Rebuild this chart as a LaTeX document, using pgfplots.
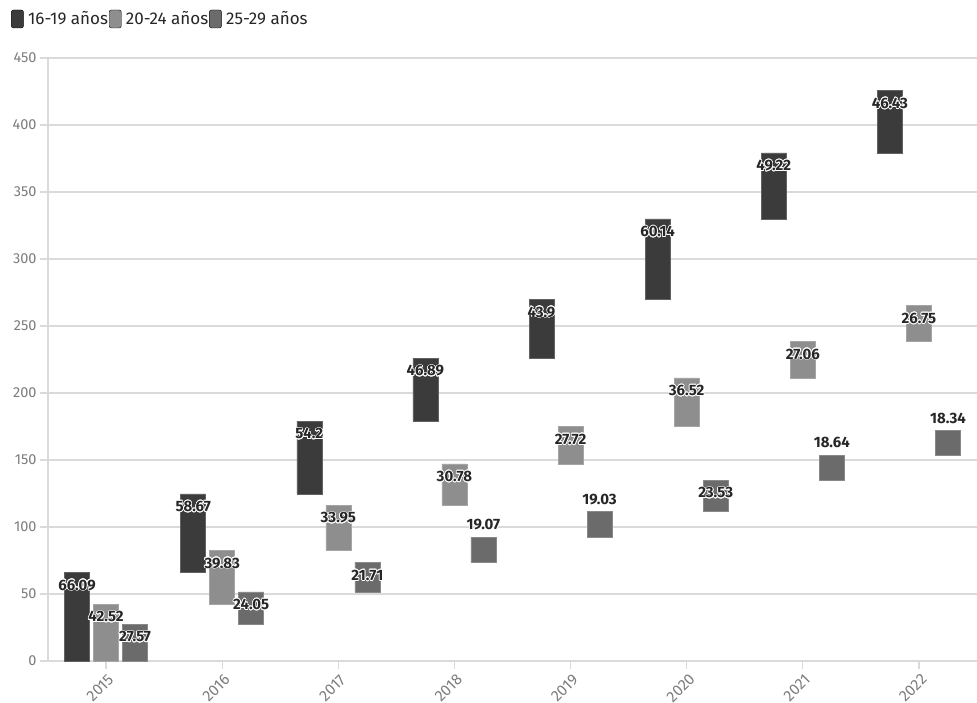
\documentclass[border=0pt]{standalone}
\usepackage{pgfplots}
\pgfplotsset{compat=1.18}
\usepackage{pgfplotstable}
\usepackage{fontspec}
\setmainfont{Fira Sans}
\usepackage{contour}
\contourlength{0.7pt}
\contournumber{16}

\definecolor{cA}{HTML}{3B3B3B}
\definecolor{cB}{HTML}{8E8E8E}
\definecolor{cC}{HTML}{6B6B6B}
\definecolor{gridc}{HTML}{DADADA}
\definecolor{tickc}{HTML}{7C7C7C}
\definecolor{labc}{HTML}{262626}

% base = where the bar starts, val = size of the step, top = base+val,
% off = label shift (pt)
\pgfplotstableread{
x base val top off
0 0 66.09 66.09 -13
1 66.09 58.67 124.76 -13
2 124.76 54.2 178.96 -13
3 178.96 46.89 225.85 -13
4 225.85 43.9 269.75 -13
5 269.75 60.14 329.89 -13
6 329.89 49.22 379.11 -13
7 379.11 46.43 425.54 -13
}\tA
\pgfplotstableread{
x base val top off
0 0 42.52 42.52 -13
1 42.52 39.83 82.35 -13
2 82.35 33.95 116.30 -13
3 116.30 30.78 147.08 -13
4 147.08 27.72 174.80 -13
5 174.80 36.52 211.32 -13
6 211.32 27.06 238.38 -13
7 238.38 26.75 265.13 -13
}\tB
\pgfplotstableread{
x base val top off
0 0 27.57 27.57 -13
1 27.57 24.05 51.62 -13
2 51.62 21.71 73.33 -13
3 73.33 19.07 92.40 12
4 92.40 19.03 111.43 12
5 111.43 23.53 134.96 -13
6 134.96 18.64 153.60 12
7 153.60 18.34 171.94 12
}\tC

\pgfplotsset{
  frame/.style={
    at={(0,0)}, anchor=south west,
    scale only axis, width=929pt, height=603pt,
    xmin=-0.5, xmax=7.5, ymin=0, ymax=450, clip=false,
    /pgf/number format/assume math mode=true,
  },
  bars/.style={ybar stacked, bar width=25pt},
  % labels: invisible line plot at the bar tops, in their own axis
  vals/.style={
    sharp plot, draw=none, mark=none,
    nodes near coords={\contour{white}{\pgfmathprintnumber{\pgfplotspointmeta}}},
    point meta=explicit,
    visualization depends on={\thisrow{off} \as \off},
    every node near coord/.append style={anchor=center, yshift=\off pt,
      font=\fontsize{15}{15}\selectfont\bfseries, text=labc, inner sep=0pt},
  },
  sqleg/.style={legend image code/.code={
    \fill[##1, rounded corners=2pt] (0pt,-9pt) rectangle (12pt,9pt);}},
}

\begin{document}
\begin{tikzpicture}
\begin{axis}[frame, bars,
  axis lines*=left,
  axis line style={gridc, line width=1.8pt},
  ymajorgrids, major grid style={gridc, line width=1.3pt},
  tick style={gridc, line width=1.3pt}, tick align=outside, major tick length=8pt,
  ytick={0,50,...,450},
  xtick={0,...,7},
  xticklabels={2015,2016,2017,2018,2019,2020,2021,2022},
  yticklabel style={font=\fontsize{14.5}{14.5}\selectfont, text=tickc},
  xticklabel style={font=\fontsize{15.5}{15.5}\selectfont, text=tickc,
    xshift=-6pt, yshift=-19pt, rotate=45, anchor=center},
  legend style={at={(axis description cs:0,1)}, anchor=west,
    xshift=-37pt, yshift=39pt, draw=none, fill=none, inner sep=0pt,
    legend columns=-1, font=\fontsize{17}{17}\selectfont, text=labc,
    /tikz/every odd column/.append style={column sep=2.5pt},
    /tikz/every even column/.append style={column sep=-1pt}},
]
\addlegendimage{sqleg, fill=cA}
\addlegendentry{16-19 años}
\addlegendimage{sqleg, fill=cB}
\addlegendentry{20-24 años}
\addlegendimage{sqleg, fill=cC}
\addlegendentry{25-29 años}
\addplot[forget plot, draw=none, fill=none, bar shift=-29pt] table[x=x, y=base] {\tA};
\addplot[forget plot, fill=cA, draw=cA!80!white, line width=0.6pt, bar shift=-29pt]
  table[x=x, y=val] {\tA};
\end{axis}

\begin{axis}[frame, bars, hide axis]
\addplot[draw=none, fill=none, bar shift=0pt] table[x=x, y=base] {\tB};
\addplot[fill=cB, draw=cB!80!white, line width=0.6pt, bar shift=0pt]
  table[x=x, y=val] {\tB};
\end{axis}

\begin{axis}[frame, bars, hide axis]
\addplot[draw=none, fill=none, bar shift=29pt] table[x=x, y=base] {\tC};
\addplot[fill=cC, draw=cC!80!white, line width=0.6pt, bar shift=29pt]
  table[x=x, y=val] {\tC};
\end{axis}

\begin{axis}[frame, hide axis]
\addplot[vals] table[x expr=\thisrow{x}-0.25, y=top, meta=val] {\tA};
\addplot[vals] table[x=x, y=top, meta=val] {\tB};
\addplot[vals] table[x expr=\thisrow{x}+0.25, y=top, meta=val] {\tC};
\end{axis}

\pgfresetboundingbox
\path (-48pt,-42pt) rectangle (929pt,661pt);
\end{tikzpicture}
\end{document}
